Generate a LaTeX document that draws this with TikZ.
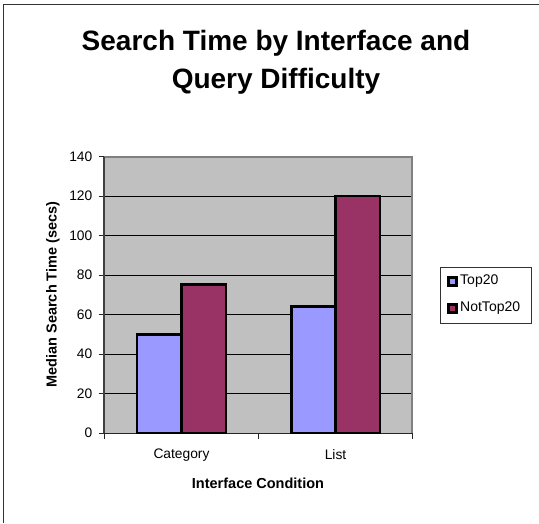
\documentclass[tikz,border=0pt]{standalone}
\usepackage{fontspec}
\setmainfont{Liberation Sans}
\usepackage{xcolor}
\usepackage{tikz}
\usetikzlibrary{positioning}
\definecolor{topcol}{HTML}{9999FF}
\definecolor{nottopcol}{HTML}{993366}
\definecolor{plotgray}{HTML}{C0C0C0}
\definecolor{bordergray}{HTML}{808080}

\begin{document}
\begin{tikzpicture}[x=1pt,y=-1pt,
	bar/.style={draw=black,line width=2.8pt},
	ticklab/.style={font=\fontsize{13.8}{16}\selectfont,inner sep=0pt},
	axtitle/.style={font=\fontsize{14.5}{17}\selectfont\bfseries,inner sep=0pt},
	legtext/.style={font=\fontsize{14}{16}\selectfont,inner sep=0pt,anchor=west}]
	\useasboundingbox (0,0) rectangle (539,523);
	\draw [line width=1.6pt,black!80](3.5,523) -- (3.5,4.5) -- (539,4.5);
	\node[anchor=base,font=\fontsize{28}{32}\selectfont\bfseries,inner sep=0pt] (title1) at (276,50) {Search Time by Interface and};
	\node[anchor=base,font=\fontsize{28}{32}\selectfont\bfseries,inner sep=0pt] (title2) at (276,88) {Query Difficulty};
	% plot area
	\fill[plotgray] (104,156.5) rectangle (412,433);
	\foreach \v in {20,40,...,120}
		\draw [black,line width=0.7pt](104,433-\v*1.975) -- (412,433-\v*1.975);
	\draw [bordergray,line width=2pt](104,156.5) -- (412,156.5) -- (412,433);
	\foreach \v in {0,20,...,140}{
		\draw [black!85,line width=0.8pt](98.5,433-\v*1.975) -- (104,433-\v*1.975);
		\node[ticklab,anchor=east] (ylab\v) at (92.5,433-\v*1.975) {\v};
	}
	\draw [black!75,line width=1.6pt](104,156.5) -- (104,433);
	\draw [black!85,line width=1pt](104,433) -- (412,433);
	\foreach \x in {104,258,412}
		\draw [black!85,line width=1pt](\x,433) -- (\x,438.5);
	% bars
	\draw[bar,fill=topcol] (137,433) rectangle (181.5,433-50*1.975);
	\draw[bar,fill=nottopcol] (181.5,433) rectangle (226,433-75*1.975);
	\draw[bar,fill=topcol] (291.5,433) rectangle (335.5,433-64*1.975);
	\draw[bar,fill=nottopcol] (335.5,433) rectangle (380,433-120*1.975);
	\node[ticklab] (catlab) at (181.5,455) {Category};
	\node[ticklab] (listlab) at (335.5,455) {List};
	\node[axtitle] (xtitle) at (258,483) {Interface Condition};
	\node[axtitle,rotate=90] (ytitle) at (53,294.5) {Median Search Time (secs)};
	% legend
	\draw [black!80,line width=0.8pt](440.5,267.5) rectangle (531.5,323.5);
	\fill[black] (447,276) rectangle (457.5,286.5);
	\fill[topcol] (449.5,278.5) rectangle (455,284);
	\fill[black] (447,303) rectangle (457.5,313.5);
	\fill[nottopcol] (449.5,305.5) rectangle (455,311);
	\node[legtext] (legtop) at (460,281.5) {Top20};
	\node[legtext] (legnot) at (460,308.5) {NotTop20};
\end{tikzpicture}
\end{document}
